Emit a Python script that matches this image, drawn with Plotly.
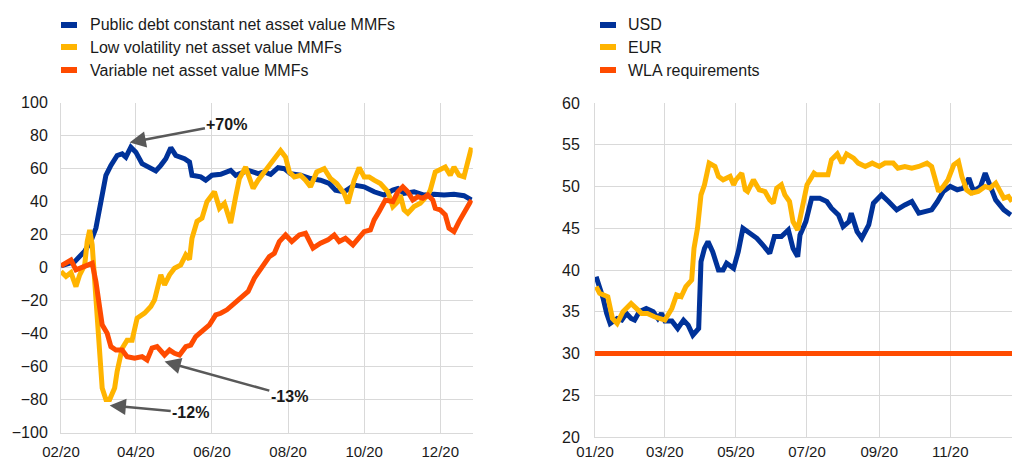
import plotly.graph_objects as go

W, H = 1012, 459

# ---------------- Left panel data (percentage change) ----------------
left_names = ["Public debt constant net asset value MMFs",
              "Low volatility net asset value MMFs",
              "Variable net asset value MMFs"]

pd_dates = ["2020-02-01", "2020-02-12", "2020-02-20", "2020-02-25", "2020-02-29", "2020-03-04",
            "2020-03-08", "2020-03-12", "2020-03-17", "2020-03-21", "2020-03-24", "2020-03-28",
            "2020-04-01", "2020-04-06", "2020-04-12", "2020-04-17", "2020-04-21", "2020-04-25",
            "2020-04-29", "2020-05-03", "2020-05-10", "2020-05-14", "2020-05-16", "2020-05-23",
            "2020-05-27", "2020-06-01", "2020-06-08", "2020-06-16", "2020-06-20", "2020-06-30",
            "2020-07-08", "2020-07-13", "2020-07-18", "2020-07-24", "2020-07-29", "2020-08-03",
            "2020-08-11", "2020-08-19", "2020-08-27", "2020-09-03", "2020-09-08", "2020-09-15",
            "2020-09-23", "2020-10-01", "2020-10-09", "2020-10-17", "2020-10-24", "2020-10-28",
            "2020-11-02", "2020-11-10", "2020-11-18", "2020-11-26", "2020-12-04", "2020-12-12",
            "2020-12-20", "2020-12-26"]
pd_values = [1, 3.6, 10, 16, 24, 40,
             56, 62, 68, 69, 67, 73,
             70, 63, 61, 58.6, 62, 66,
             72.7, 68, 66, 64, 56, 55,
             53, 56, 56.6, 59, 56, 59,
             57, 58, 56.6, 60.6, 60, 57,
             56, 54, 53, 51, 47, 46,
             50, 49, 46, 44, 47, 48,
             45, 46, 44, 44.5, 44, 44.5,
             43.6, 41]

lv_dates = ["2020-02-01", "2020-02-05", "2020-02-09", "2020-02-13", "2020-02-16", "2020-02-20",
            "2020-02-22", "2020-02-24", "2020-02-26", "2020-02-29", "2020-03-03", "2020-03-05",
            "2020-03-08", "2020-03-11", "2020-03-15", "2020-03-17", "2020-03-21", "2020-03-25",
            "2020-03-29", "2020-04-02", "2020-04-08", "2020-04-13", "2020-04-16", "2020-04-18",
            "2020-04-21", "2020-04-24", "2020-04-28", "2020-05-02", "2020-05-07", "2020-05-11",
            "2020-05-14", "2020-05-16", "2020-05-20", "2020-05-24", "2020-05-28", "2020-06-03",
            "2020-06-07", "2020-06-11", "2020-06-16", "2020-06-20", "2020-06-23", "2020-06-28",
            "2020-07-04", "2020-07-08", "2020-07-13", "2020-07-18", "2020-07-24", "2020-07-26",
            "2020-07-30", "2020-08-02", "2020-08-06", "2020-08-11", "2020-08-15", "2020-08-19",
            "2020-08-24", "2020-08-30", "2020-09-04", "2020-09-09", "2020-09-15", "2020-09-18",
            "2020-09-23", "2020-09-27", "2020-10-01", "2020-10-05", "2020-10-09", "2020-10-14",
            "2020-10-20", "2020-10-24", "2020-10-28", "2020-10-30", "2020-11-02", "2020-11-05",
            "2020-11-10", "2020-11-15", "2020-11-21", "2020-11-23", "2020-11-27", "2020-12-05",
            "2020-12-09", "2020-12-12", "2020-12-16", "2020-12-20", "2020-12-23", "2020-12-26"]
lv_values = [-2.4, -5.4, -3, -11.5, -4.4, 1.6,
             15.8, 22.8, 13.8, -16.5, -47, -73,
             -80, -80, -73, -63, -49, -44,
             -44, -30.7, -27.6, -23.6, -19.6, -13.5,
             -4.4, -10.5, -4.4, -0.4, 1.6, 7.7,
             5, 17.8, 28, 30, 40, 46,
             36, 39, 27, 43, 54, 61,
             48, 53, 58, 63, 69, 71,
             67, 58, 55, 56, 53, 49,
             58, 60, 54, 51, 45, 39,
             53, 60.6, 55, 55, 53, 51,
             46, 37, 40, 44, 35, 33,
             37, 39, 44, 47, 58, 61,
             56, 61, 56, 55, 64, 72.7]

vn_dates = ["2020-02-01", "2020-02-05", "2020-02-09", "2020-02-13", "2020-02-18", "2020-02-22",
            "2020-02-26", "2020-02-29", "2020-03-03", "2020-03-05", "2020-03-09", "2020-03-12",
            "2020-03-16", "2020-03-21", "2020-03-25", "2020-03-31", "2020-04-06", "2020-04-10",
            "2020-04-14", "2020-04-18", "2020-04-24", "2020-04-28", "2020-05-02", "2020-05-06",
            "2020-05-11", "2020-05-15", "2020-05-19", "2020-05-24", "2020-05-30", "2020-06-04",
            "2020-06-08", "2020-06-13", "2020-06-19", "2020-06-24", "2020-06-30", "2020-07-05",
            "2020-07-10", "2020-07-17", "2020-07-21", "2020-07-25", "2020-07-30", "2020-08-04",
            "2020-08-10", "2020-08-15", "2020-08-21", "2020-08-27", "2020-09-02", "2020-09-07",
            "2020-09-11", "2020-09-16", "2020-09-22", "2020-09-26", "2020-10-01", "2020-10-06",
            "2020-10-09", "2020-10-13", "2020-10-18", "2020-10-24", "2020-10-28", "2020-11-01",
            "2020-11-05", "2020-11-09", "2020-11-13", "2020-11-17", "2020-11-21", "2020-11-25",
            "2020-11-27", "2020-12-01", "2020-12-05", "2020-12-08", "2020-12-12", "2020-12-16",
            "2020-12-20", "2020-12-24", "2020-12-26"]
vn_values = [1, 2.6, 4.6, -1.4, 0, 1.6,
             2.6, -8.5, -22.6, -34.7, -39.8, -47.9,
             -50, -50, -54, -55, -54, -56,
             -48.8, -47.9, -53, -50, -52, -53,
             -48, -47, -41.8, -38.8, -34.7, -28.7,
             -27.7, -25.6, -21.6, -18.6, -14.5, -6.4,
             -0.4, 6.7, 8.7, 15.8, 19.8, 15.8,
             19.8, 20.8, 11.8, 14.8, 16.8, 19.8,
             15.8, 17.8, 13.8, 17.8, 21.8, 22.8,
             28.9, 34, 41, 40, 46, 49,
             46, 41, 43, 42, 44, 41,
             36, 35, 32, 23.9, 21.8, 27.9,
             33, 38, 41]

left_ticks_y = [-100, -80, -60, -40, -20, 0, 20, 40, 60, 80, 100]

# annotations on left panel
ann_labels = ["+70%", "-12%", "-13%"]
ann_tip_dates = ["2020-03-27", "2020-03-11", "2020-04-24"]
ann_tip_vals = [75.8, -83.6, -57]
ann_text_dates = ["2020-06-13", "2020-05-15", "2020-08-02"]
ann_text_vals = [87, -88, -78]

# ---------------- Right panel data (WLA, %) ----------------
right_names = ["USD", "EUR", "WLA requirements"]

usd_dates = ["2020-01-02", "2020-01-05", "2020-01-08", "2020-01-11", "2020-01-14", "2020-01-20",
             "2020-01-24", "2020-01-28", "2020-02-01", "2020-02-04", "2020-02-08", "2020-02-14",
             "2020-02-20", "2020-02-24", "2020-02-27", "2020-03-01", "2020-03-07", "2020-03-12",
             "2020-03-17", "2020-03-21", "2020-03-25", "2020-03-30", "2020-04-01", "2020-04-04",
             "2020-04-07", "2020-04-11", "2020-04-16", "2020-04-20", "2020-04-23", "2020-04-29",
             "2020-05-03", "2020-05-07", "2020-05-13", "2020-05-19", "2020-05-24", "2020-05-30",
             "2020-06-03", "2020-06-09", "2020-06-15", "2020-06-19", "2020-06-23", "2020-06-25",
             "2020-06-30", "2020-07-05", "2020-07-12", "2020-07-18", "2020-07-22", "2020-07-28",
             "2020-08-01", "2020-08-06", "2020-08-08", "2020-08-13", "2020-08-17", "2020-08-23",
             "2020-08-27", "2020-09-03", "2020-09-09", "2020-09-16", "2020-09-23", "2020-09-29",
             "2020-10-05", "2020-10-10", "2020-10-16", "2020-10-21", "2020-10-26", "2020-11-01",
             "2020-11-07", "2020-11-12", "2020-11-17", "2020-11-21", "2020-11-27", "2020-12-01",
             "2020-12-05", "2020-12-10", "2020-12-17", "2020-12-23"]
usd_values = [39.2, 38, 36.6, 34.8, 33.6, 34.2,
              34, 34.8, 34.2, 34, 35, 35.4,
              35, 34.2, 34.8, 33.9, 33.9, 33,
              34, 33.4, 32.2, 33, 41, 42.6,
              43.4, 42.2, 40, 40, 40.8, 40.2,
              42.2, 45, 44.4, 43.8, 43, 42,
              44, 44, 44.8, 42.6, 41.6, 44.2,
              45.8, 48.6, 48.6, 48.2, 47.4, 46.6,
              45.2, 45.8, 46.8, 44.6, 43.8, 45.4,
              48, 49, 48.2, 47.2, 47.8, 48.2,
              46.8, 47, 47.2, 48.2, 49.4, 50,
              49.6, 49.8, 51, 49.4, 50, 51.6,
              50, 48.4, 47.2, 46.6]

eur_dates = ["2020-01-02", "2020-01-05", "2020-01-12", "2020-01-16", "2020-01-20", "2020-01-25",
             "2020-02-01", "2020-02-05", "2020-02-10", "2020-02-15", "2020-02-21", "2020-03-01",
             "2020-03-07", "2020-03-11", "2020-03-15", "2020-03-19", "2020-03-24", "2020-03-26",
             "2020-03-29", "2020-04-01", "2020-04-04", "2020-04-08", "2020-04-13", "2020-04-16",
             "2020-04-20", "2020-04-26", "2020-04-29", "2020-05-01", "2020-05-06", "2020-05-09",
             "2020-05-11", "2020-05-16", "2020-05-21", "2020-05-26", "2020-05-30", "2020-06-02",
             "2020-06-05", "2020-06-09", "2020-06-12", "2020-06-16", "2020-06-19", "2020-06-23",
             "2020-06-26", "2020-07-01", "2020-07-07", "2020-07-09", "2020-07-14", "2020-07-19",
             "2020-07-22", "2020-07-27", "2020-07-31", "2020-08-04", "2020-08-10", "2020-08-14",
             "2020-08-20", "2020-08-26", "2020-09-01", "2020-09-06", "2020-09-13", "2020-09-17",
             "2020-09-23", "2020-09-29", "2020-10-05", "2020-10-12", "2020-10-16", "2020-10-19",
             "2020-10-22", "2020-10-26", "2020-10-30", "2020-11-04", "2020-11-08", "2020-11-11",
             "2020-11-15", "2020-11-19", "2020-11-25", "2020-12-01", "2020-12-05", "2020-12-10",
             "2020-12-14", "2020-12-17", "2020-12-21", "2020-12-24"]
eur_values = [38, 37.2, 36.8, 34.2, 33.6, 35,
              36, 35.4, 34.8, 34.8, 34.4, 34,
              35.4, 37, 36.8, 38, 38.8, 42.6,
              45, 49, 50.2, 52.8, 52.4, 51.2,
              50.8, 51.2, 50.2, 50.8, 51.6, 49.6,
              49.4, 50.8, 49.6, 49.4, 48.4, 48,
              49.8, 50.2, 49, 48.2, 45.8, 44.8,
              46.8, 50.2, 51.6, 51.4, 51.4, 51.4,
              53.2, 53.9, 52.8, 53.9, 53.4, 52.8,
              52.4, 52.8, 52.4, 52.8, 52.8, 52.2,
              52.4, 52.2, 52.4, 52.8, 52.4, 50.8,
              49.4, 50, 50.8, 52.6, 53, 51.2,
              49.6, 49.2, 49.4, 50, 49.8, 50.4,
              49.2, 48.6, 48.8, 48.2]

wla_dates = ["2020-01-01", "2020-12-31"]
wla_values = [30, 30]

right_ticks_y = [20, 25, 30, 35, 40, 45, 50, 55, 60]

colors = ["#003299", "#FFB400", "#FF4B00"]
FONT = "Liberation Sans, Arial, sans-serif"
TXT = "#1a1a1a"
GRID = "#d9d9d9"


def px_x(p):
    return p / W


def px_y(p):
    return 1 - p / H


fig = go.Figure()

left_series = [(pd_dates, pd_values), (lv_dates, lv_values), (vn_dates, vn_values)]
for (d, v), name, c in zip(left_series, left_names, colors):
    fig.add_trace(go.Scatter(x=d, y=v, name=name, mode="lines",
                             line=dict(color=c, width=5), xaxis="x", yaxis="y",
                             showlegend=False))

right_series = [(usd_dates, usd_values), (eur_dates, eur_values), (wla_dates, wla_values)]
for (d, v), name, c in zip(right_series, right_names, colors):
    fig.add_trace(go.Scatter(x=d, y=v, name=name, mode="lines",
                             line=dict(color=c, width=5), xaxis="x2", yaxis="y2",
                             showlegend=False))

axis_common = dict(showgrid=True, gridcolor=GRID, gridwidth=1, zeroline=False,
                   showline=True, linecolor=GRID, linewidth=1, ticks="", automargin=False)
yfont = dict(family=FONT, size=16, color=TXT)
xfont = dict(family=FONT, size=15, color=TXT)

fig.update_layout(
    width=W, height=H,
    margin=dict(l=0, r=0, t=0, b=0, pad=0, autoexpand=False),
    paper_bgcolor="white", plot_bgcolor="white",
    xaxis=dict(domain=[px_x(61), px_x(472.7)], type="date",
               range=["2020-02-01", "2020-12-27"], tick0="2020-02-01", dtick="M2",
               tickformat="%m/%y", anchor="y", ticklabelstandoff=5, tickfont=xfont,
               **axis_common),
    yaxis=dict(domain=[px_y(432.5), px_y(102.7)], range=[-100, 100],
               tickvals=left_ticks_y, anchor="x", ticklabelstandoff=9, tickfont=yfont,
               **axis_common),
    xaxis2=dict(domain=[px_x(595), 1.0], type="date",
                range=["2020-01-01", "2020-12-24"], tick0="2020-01-01", dtick="M2",
                tickformat="%m/%y", anchor="y2", ticklabelstandoff=1, tickfont=xfont,
                **axis_common),
    yaxis2=dict(domain=[px_y(437), px_y(103)], range=[20, 60],
                tickvals=right_ticks_y, anchor="x2", ticklabelstandoff=11, tickfont=yfont,
                **axis_common),
    showlegend=False,
)

# arrows with labels (left panel)
for lab, td, tv, xd, xv in zip(ann_labels, ann_tip_dates, ann_tip_vals, ann_text_dates, ann_text_vals):
    fig.add_annotation(x=td, y=tv, ax=xd, ay=xv, xref="x", yref="y", axref="x", ayref="y",
                       text="<b>%s</b>" % lab, showarrow=True, arrowhead=2, arrowsize=1.3,
                       arrowwidth=2.5, arrowcolor="#595959", standoff=0, startstandoff=0,
                       font=dict(family=FONT, size=16, color=TXT))

# manual legends (short thick swatches)
legend_rows_y = [25, 47, 70]
legends = [(left_names, 61, 88), (right_names, 600, 626)]
for names, sx, tx in legends:
    for name, c, ry in zip(names, colors, legend_rows_y):
        fig.add_shape(type="rect", xref="paper", yref="paper",
                      x0=px_x(sx), x1=px_x(sx + 16), y0=px_y(ry + 3), y1=px_y(ry - 3),
                      fillcolor=c, line=dict(width=0))
        fig.add_annotation(x=px_x(tx), y=px_y(ry), xref="paper", yref="paper",
                           text=name, showarrow=False, xanchor="left", yanchor="middle",
                           font=dict(family=FONT, size=16, color=TXT))

fig.write_html("out.html", config={"displayModeBar": False})

# remove the browser's default page margin so the figure sits at the window's top-left
with open("out.html", "r", encoding="utf-8") as f:
    html = f.read()
html = html.replace("<head>", "<head><style>html,body{margin:0;padding:0;overflow:hidden;}</style>", 1)
with open("out.html", "w", encoding="utf-8") as f:
    f.write(html)
